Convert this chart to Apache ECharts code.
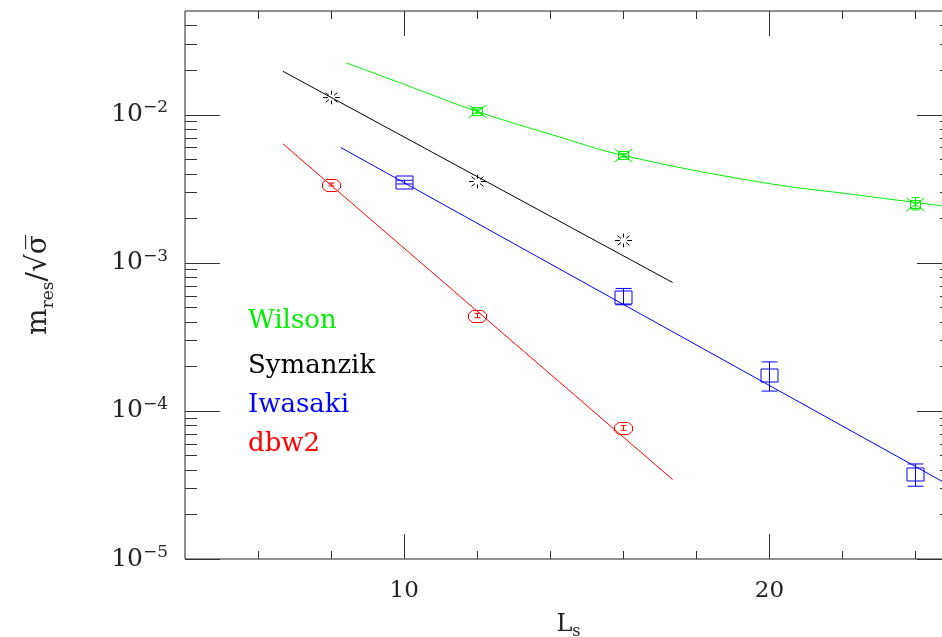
<!DOCTYPE html>
<html>
<head>
<meta charset="utf-8">
<script src="https://cdn.jsdelivr.net/npm/echarts@6/dist/echarts.min.js"></script>
<style>html,body{margin:0;padding:0;background:#fff}#c{width:942px;height:637px}</style>
</head>
<body>
<div id="c"></div>
<script>
// ---------------- data ----------------
const xRange = [4, 25];
const yRange = [1e-5, 0.05];
const xMajorTicks = [10, 20];
const xMinorTicks = [6, 8, 12, 14, 16, 18, 22, 24];
const yMajorTicks = [1e-5, 1e-4, 1e-3, 1e-2];
const yMinorMantissas = [2, 3, 4, 5, 6, 7, 8, 9];

const legendNames = ['Wilson', 'Symanzik', 'Iwasaki', 'dbw2'];

// Wilson
const wilsonL  = [12, 16, 24];
const wilsonM  = [1.055e-2, 5.30e-3, 2.50e-3];
const wilsonLo = [1.02e-2, 5.15e-3, 2.27e-3];
const wilsonHi = [1.09e-2, 5.45e-3, 2.75e-3];
const wilsonFitL = [8.42, 10, 12, 14.26, 16, 19.74, 22.48, 25];
const wilsonFitM = [2.23e-2, 1.60e-2, 1.05e-2, 7.05e-3, 5.30e-3, 3.50e-3, 2.85e-3, 2.37e-3];

// Symanzik
const symL = [8, 12, 16];
const symM = [1.31e-2, 3.56e-3, 1.42e-3];
const symFitL = [6.68, 17.35];
const symFitM = [1.96e-2, 7.35e-4];

// Iwasaki
const iwaL  = [10, 16, 20, 24];
const iwaM  = [3.50e-3, 5.90e-4, 1.74e-4, 3.74e-5];
const iwaLo = [3.40e-3, 5.20e-4, 1.36e-4, 3.10e-5];
const iwaHi = [3.60e-3, 6.70e-4, 2.14e-4, 4.38e-5];
const iwaFitL = [8.26, 25];
const iwaFitM = [6.0e-3, 3.07e-5];

// dbw2
const dbwL  = [8, 12, 16];
const dbwM  = [3.37e-3, 4.40e-4, 7.67e-5];
const dbwLo = [3.30e-3, 4.25e-4, 7.40e-5];
const dbwHi = [3.45e-3, 4.55e-4, 7.95e-5];
const dbwFitL = [6.68, 17.35];
const dbwFitM = [6.35e-3, 3.44e-5];

// ---------------- chart ----------------
const FONT = '"DejaVu Serif", "Liberation Serif", serif';
const C = { Wilson: '#00ee00', Symanzik: '#000000', Iwasaki: '#0000ff', dbw2: '#ff0000' };

function zip(a, b) { return a.map((v, i) => [v, b[i]]); }

function symbolShapes(kind, cx, cy, st) {
  const out = [];
  if (kind === 'square') {
    out.push({ type: 'rect', shape: { x: cx - 8.5, y: cy - 6.5, width: 17, height: 13 }, style: st });
  } else if (kind === 'octagon') {
    const pts = [[-9, -2.5], [-5, -6], [5, -6], [9, -2.5], [9, 2.5], [5, 6], [-5, 6], [-9, 2.5]];
    out.push({ type: 'polygon', shape: { points: pts.map(p => [cx + p[0], cy + p[1]]) }, style: st });
  } else if (kind === 'burst') {
    out.push({ type: 'rect', shape: { x: cx - 5, y: cy - 4, width: 10, height: 8 }, style: st });
    out.push({ type: 'line', shape: { x1: cx - 9, y1: cy - 6.5, x2: cx + 9, y2: cy + 6.5 }, style: st });
    out.push({ type: 'line', shape: { x1: cx - 9, y1: cy + 6.5, x2: cx + 9, y2: cy - 6.5 }, style: st });
  } else if (kind === 'star') {
    for (let k = 0; k < 8; k++) {
      const a = k * Math.PI / 4;
      const c = Math.cos(a), s = Math.sin(a);
      out.push({ type: 'line', shape: {
        x1: cx + 3.6 * c, y1: cy + 3.0 * s, x2: cx + 8.5 * c, y2: cy + 6.8 * s }, style: st });
    }
  }
  return out;
}

function modelSeries(name, kind, L, M, lo, hi, capHalf) {
  const color = C[name];
  const data = L.map((x, i) => [x, M[i], lo ? lo[i] : M[i], hi ? hi[i] : M[i]]);
  return {
    name: name, type: 'custom', coordinateSystem: 'cartesian2d', data: data,
    encode: { x: 0, y: 1 }, z: 5, silent: true,
    renderItem: function (params, api) {
      const p = api.coord([api.value(0), api.value(1)]);
      const pl = api.coord([api.value(0), api.value(2)]);
      const ph = api.coord([api.value(0), api.value(3)]);
      const st = { stroke: color, fill: 'none', lineWidth: 1 };
      const cx = Math.round(p[0]) + 0.5, cy = Math.round(p[1]) + 0.5;
      const ch = [];
      if (Math.abs(pl[1] - ph[1]) > 1) {
        ch.push({ type: 'line', shape: { x1: cx, y1: ph[1], x2: cx, y2: pl[1] }, style: st });
        ch.push({ type: 'line', shape: { x1: cx - capHalf, y1: ph[1], x2: cx + capHalf, y2: ph[1] }, style: st });
        ch.push({ type: 'line', shape: { x1: cx - capHalf, y1: pl[1], x2: cx + capHalf, y2: pl[1] }, style: st });
      }
      symbolShapes(kind, cx, cy, st).forEach(s => ch.push(s));
      return { type: 'group', children: ch };
    }
  };
}

function fitSeries(name, L, M, smooth) {
  return {
    name: name + ' fit', type: 'line', data: zip(L, M), showSymbol: false, symbol: 'none',
    smooth: smooth || false, clip: true, z: 3, silent: true,
    lineStyle: { color: C[name], width: 1 }
  };
}

// tick marks drawn through the axis scales
const tickData = [];
xMinorTicks.forEach(v => tickData.push([v, 1e-3, 0]));
xMajorTicks.forEach(v => tickData.push([v, 1e-3, 1]));
for (let d = -5; d <= -2; d++) {
  yMinorMantissas.forEach(m => {
    const v = m * Math.pow(10, d);
    if (v < yRange[1]) tickData.push([10, v, 2]);
  });
}
yMajorTicks.forEach(v => tickData.push([10, v, 3]));

const tickSeries = {
  name: 'ticks', type: 'custom', coordinateSystem: 'cartesian2d', data: tickData,
  encode: { x: 0, y: 1 }, z: 2, silent: true,
  renderItem: function (params, api) {
    const cs = params.coordSys;
    const t = api.value(2);
    const st = { stroke: '#333', lineWidth: 1 };
    const ch = [];
    if (t < 2) {
      const px = Math.round(api.coord([api.value(0), 1e-3])[0]) + 0.5;
      const len = t === 1 ? 25 : 8;
      const yb = cs.y + cs.height, yt = cs.y;
      ch.push({ type: 'line', shape: { x1: px, y1: yb, x2: px, y2: yb - len }, style: st });
      ch.push({ type: 'line', shape: { x1: px, y1: yt, x2: px, y2: yt + len }, style: st });
    } else {
      const py = Math.round(api.coord([10, api.value(1)])[1]) + 0.5;
      const len = t === 3 ? 35 : 12;
      const xl = cs.x, xr = cs.x + cs.width;
      ch.push({ type: 'line', shape: { x1: xl, y1: py, x2: xl + len, y2: py }, style: st });
      ch.push({ type: 'line', shape: { x1: xr, y1: py, x2: xr - len, y2: py }, style: st });
    }
    return { type: 'group', children: ch };
  }
};

const legendY = [321, 366, 405, 444];

const option = {
  animation: false,
  backgroundColor: '#ffffff',
  grid: {
    left: 185, top: 11, right: -10, bottom: 78,
    containLabel: false, outerBoundsMode: 'none',
    show: true, borderColor: '#222', borderWidth: 1, backgroundColor: 'transparent'
  },
  xAxis: {
    type: 'value', min: xRange[0], max: xRange[1], interval: 2,
    axisLine: { show: false }, axisTick: { show: false }, splitLine: { show: false },
    axisLabel: {
      margin: 20, color: '#222', fontFamily: FONT, fontSize: 23, lineHeight: 24,
      formatter: v => (xMajorTicks.indexOf(v) >= 0 ? String(v) : '')
    },
    name: '{L|L}{s|s}', nameLocation: 'middle', nameGap: 51,
    nameTextStyle: {
      color: '#222', fontFamily: FONT,
      rich: {
        L: { fontFamily: FONT, fontSize: 24, lineHeight: 30, color: '#222' },
        s: { fontFamily: FONT, fontSize: 16, lineHeight: 16, verticalAlign: 'bottom', color: '#222' }
      }
    }
  },
  yAxis: {
    type: 'log', logBase: 10, min: yRange[0], max: yRange[1],
    axisLine: { show: false }, axisTick: { show: false }, splitLine: { show: false }, minorTick: { show: false },
    axisLabel: {
      margin: 17, showMaxLabel: false, color: '#222',
      formatter: function (v) {
        const lg = Math.log10(v);
        const e = Math.round(lg);
        if (Math.abs(lg - e) > 1e-6) return '';
        return '{b|10}{s|\u2212' + (-e) + '}';
      },
      rich: {
        b: { fontFamily: FONT, fontSize: 25, lineHeight: 30, color: '#222' },
        s: { fontFamily: FONT, fontSize: 17, lineHeight: 16, verticalAlign: 'top', color: '#222' }
      }
    },
    name: '{m|m}{sub|res}{m|/\u221A\u03C3\u0305}', nameLocation: 'middle', nameRotate: 90, nameGap: 128,
    nameTextStyle: {
      color: '#222', fontFamily: FONT,
      rich: {
        m: { fontFamily: FONT, fontSize: 28, lineHeight: 36, color: '#222' },
        sub: { fontFamily: FONT, fontSize: 17, lineHeight: 17, verticalAlign: 'bottom', color: '#222' }
      }
    }
  },
  graphic: legendNames.map((n, i) => ({
    type: 'text', x: 248, y: legendY[i], silent: true,
    style: { text: n, fill: C[n], fontFamily: FONT, fontSize: 26, verticalAlign: 'middle', align: 'left' }
  })),
  series: [
    tickSeries,
    fitSeries('Wilson', wilsonFitL, wilsonFitM, 0.4),
    fitSeries('Symanzik', symFitL, symFitM),
    fitSeries('Iwasaki', iwaFitL, iwaFitM),
    fitSeries('dbw2', dbwFitL, dbwFitM),
    modelSeries('Wilson', 'burst', wilsonL, wilsonM, wilsonLo, wilsonHi, 4),
    modelSeries('Symanzik', 'star', symL, symM, null, null, 3),
    modelSeries('Iwasaki', 'square', iwaL, iwaM, iwaLo, iwaHi, 8),
    modelSeries('dbw2', 'octagon', dbwL, dbwM, dbwLo, dbwHi, 3)
  ]
};

const chart = echarts.init(document.getElementById('c'), null, { renderer: 'canvas' });
chart.setOption(option);
</script>
</body>
</html>
